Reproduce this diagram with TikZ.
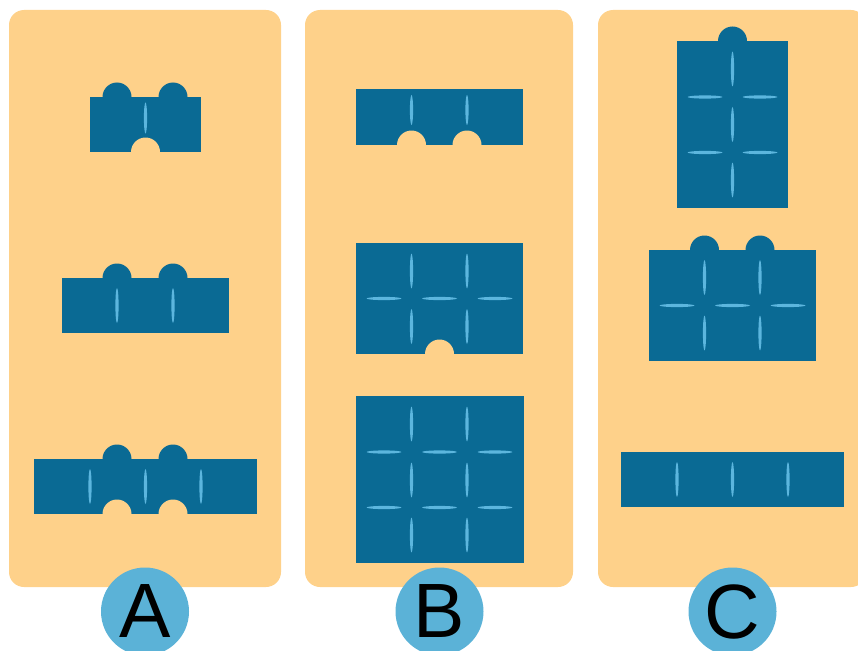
\documentclass[tikz,border=0pt]{standalone}
\usepackage{fontspec}
\setsansfont{Liberation Sans}
\usepackage{tikz}
\definecolor{panelfill}{HTML}{FED18A}
\definecolor{piecefill}{HTML}{0A6A94}
\definecolor{slitfill}{HTML}{5CB6DE}
\definecolor{tagfill}{HTML}{5BB2D7}
\tikzset{
  panel/.style = {fill=panelfill, rounded corners=15pt},
  piece/.style = {fill=piecefill},
  notch/.style = {fill=panelfill},
  slit/.style  = {fill=slitfill},
  tag/.style   = {circle, fill=tagfill, minimum size=88pt, inner sep=0pt,
                  font=\sffamily\fontsize{77}{77}\selectfont},
}
\newcommand{\vslit}[3][17.5]{\fill[slit] (#2,#3) ellipse[x radius=1.6, y radius=#1];}
\newcommand{\hslit}[3][17.5]{\fill[slit] (#2,#3) ellipse[x radius=#1, y radius=1.6];}

\begin{document}
\begin{tikzpicture}[x=1pt, y=-1pt]
  \useasboundingbox (0,0) rectangle (858,650);
  \fill[panel] (9,10) rectangle (281,587);
  \fill[panel] (305,10) rectangle (573,587);
  \fill[panel] (598,10) rectangle (866,587);

  % A
  \fill[piece] (90,97) rectangle (201,152);
  \foreach \x in {117,173}{\fill[piece] (\x,97) circle[radius=14.5];}
  \fill[notch] (145.5,152) circle[radius=14.5];
  \vslit[15.5]{145.5}{118}

  \fill[piece] (62,278) rectangle (229,333);
  \foreach \x in {117,173}{\fill[piece] (\x,278) circle[radius=14.5];}
  \foreach \x in {117,173}{\vslit{\x}{305.5}}

  \fill[piece] (34,459) rectangle (257,514);
  \foreach \x in {117,173}{
    \fill[piece] (\x,459) circle[radius=14.5];
    \fill[notch] (\x,514) circle[radius=14.5];
  }
  \foreach \x in {90,145.5,201}{\vslit{\x}{486.5}}

  % B
  \fill[piece] (356,89) rectangle (523,145);
  \foreach \x in {411.5,467}{
    \fill[notch] (\x,145) circle[radius=14.5];
    \vslit[15]{\x}{110}
  }

  \fill[piece] (356,243) rectangle (523,354);
  \fill[notch] (439.5,354) circle[radius=14.5];
  \foreach \x in {411.5,467}{\foreach \y in {271,326.5}{\vslit{\x}{\y}}}
  \foreach \x in {384,439.5,495}{\hslit{\x}{298.5}}

  \fill[piece] (356,396) rectangle (524,563);
  \foreach \x in {411.5,467}{\foreach \y in {424,480,535}{\vslit{\x}{\y}}}
  \foreach \x in {384,439.5,495}{\foreach \y in {452,507.5}{\hslit{\x}{\y}}}

  % C
  \fill[piece] (677,41) rectangle (788,208);
  \fill[piece] (732.5,41) circle[radius=14.5];
  \foreach \y in {69,124.5,180}{\vslit{732.5}{\y}}
  \foreach \x in {705,760}{\foreach \y in {97,152.5}{\hslit{\x}{\y}}}

  \fill[piece] (649,250) rectangle (816,361);
  \foreach \x in {704.5,760}{
    \fill[piece] (\x,250) circle[radius=14.5];
    \foreach \y in {277.5,333}{\vslit{\x}{\y}}
  }
  \foreach \x in {677,732.5,788}{\hslit{\x}{305.5}}

  \fill[piece] (621,452) rectangle (844,507);
  \foreach \x in {677,732.5,788}{\vslit{\x}{479.5}}

  \node[tag] (tagA) at (145,611.5) {A};
  \node[tag] (tagB) at (439.5,611.5) {B};
  \node[tag] (tagC) at (732.5,611.5) {C};
\end{tikzpicture}
\end{document}
